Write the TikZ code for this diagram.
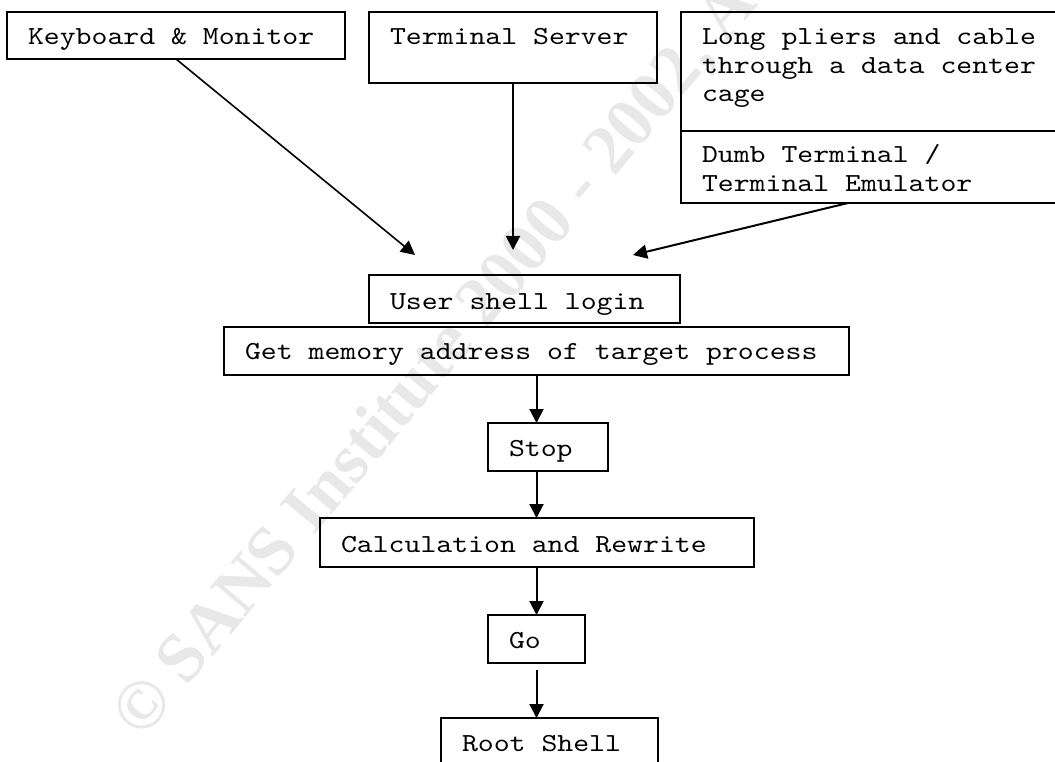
\documentclass[tikz,border=0pt]{standalone}
\usepackage{fontspec}
\setmainfont{Liberation Serif}
\newfontfamily\courfont[FakeStretch=1.165]{lmmono10-regular.otf}
\usetikzlibrary{arrows.meta}
\newcommand{\boxfont}{\fontsize{26}{28.5}\selectfont\courfont}
\begin{document}
\begin{tikzpicture}[x=1pt,y=-1pt,
  box/.style={draw, line width=2pt, anchor=north west, inner xsep=21pt, inner ysep=0pt, outer sep=0pt, align=left, font=\boxfont, text height=33pt, text depth=15pt,
    execute at begin node={\spaceskip=\fontcharwd\font`x\relax\xspaceskip=\spaceskip}},
  arr/.style={line width=2pt, -{Triangle[length=14pt,width=14pt]}},
  wm/.style={text=black!9, font=\bfseries\fontsize{70}{70}\selectfont, inner sep=0pt}]
\clip (0,0) rectangle (1055,762);
\node[wm, rotate=50, anchor=base west] (wmark) at (142,741) {© SANS Institute 2000 - 2002, A};
\node[box, text width=296pt, text depth=14pt] (km) at (7,12) {Keyboard \& Monitor};
\node[box, text width=246pt, text depth=38pt] (ts) at (369,12) {Terminal Server};
\node[box, text width=338pt, text depth=86pt] (pl) at (681,12) {Long pliers and cable\\through a data center\\cage};
\node[box, text width=338pt, text height=32pt, text depth=40pt] (dumb) at (681,131) {Dumb Terminal /\\Terminal Emulator};
\node[box, text width=269pt, text height=34pt, text depth=14pt] (user) at (369,275) {User shell login};
\node[box, text width=583pt, text height=32pt, text depth=16pt] (get) at (224,327) {Get memory address of target process};
\node[box, text width=78pt] (stop) at (488,423) {Stop};
\node[box, text width=392pt, text height=34pt] (calc) at (320,518) {Calculation and Rewrite};
\node[box, text width=55pt] (go) at (488,615) {Go};
\node[box, text width=175pt, text depth=20pt] (root) at (441,718) {Root Shell};
\coordinate (kmend) at (415,255);
\coordinate (tsend) at (513,250);
\coordinate (dmend) at (633,255);
\coordinate (gobot) at ([yshift=-7pt]go.south);
\draw[arr, line width=1.6pt] (km.south) -- (kmend);
\draw[arr] (ts.south) -- (tsend);
\draw[arr] ([xshift=167pt]dumb.south west) -- (dmend);
\draw[arr] (get.south) -- (get.south |- stop.north);
\draw[arr] (stop.south -| get.south) -- (calc.north -| get.south);
\draw[arr] (calc.south -| get.south) -- (go.north -| get.south);
\draw[arr] (gobot -| get.south) -- (root.north -| get.south);
\end{tikzpicture}
\end{document}
